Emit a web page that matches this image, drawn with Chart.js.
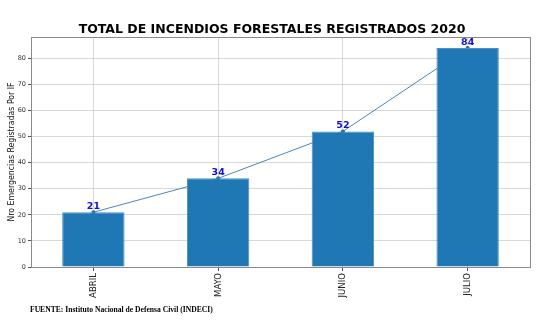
<!DOCTYPE html>
<html>
<head>
<meta charset="utf-8">
<title>Incendios forestales 2020</title>
<script src="https://cdn.jsdelivr.net/npm/chart.js@4/dist/chart.umd.min.js"></script>
<style>
    html, body { margin: 0; padding: 0; background: #fff; }
    #wrap { position: relative; width: 541px; height: 322px; }
</style>
</head>
<body>
<div id="wrap"><canvas id="incendiosChart" width="541" height="322"></canvas></div>
<script>
// datos del gráfico
const meses = ['ABRIL', 'MAYO', 'JUNIO', 'JULIO'];
const incendios = [21, 34, 52, 84];
const ticksY = [0, 10, 20, 30, 40, 50, 60, 70, 80];

const titulo = 'TOTAL DE INCENDIOS FORESTALES REGISTRADOS 2020';
const tituloEjeY = 'Nro Emergencias Registradas Por IF';
const fuente = 'FUENTE: Instituto Nacional de Defensa Civil (INDECI)';

const fuenteAngosta = '"Liberation Sans Narrow", "DejaVu Sans Condensed", "DejaVu Sans"';

// caja completa alrededor del área del gráfico + textos de título y fuente
const marcoYTextos = {
    id: 'marcoYTextos',
    afterDraw(chart) {
        const { ctx, chartArea } = chart;
        ctx.save();
        ctx.strokeStyle = '#8a8a8a';
        ctx.lineWidth = 1;
        ctx.strokeRect(Math.round(chartArea.left) + 0.5, Math.round(chartArea.top) + 0.5,
            Math.round(chartArea.right - chartArea.left), Math.round(chartArea.bottom - chartArea.top));

        ctx.fillStyle = '#000';
        ctx.textAlign = 'center';
        ctx.textBaseline = 'alphabetic';
        ctx.font = 'bold 12.5px "DejaVu Sans"';
        ctx.fillText(titulo, 272, 33);

        ctx.textAlign = 'left';
        ctx.font = 'bold 7.6px "Liberation Serif"';
        ctx.fillText(fuente, 30, 312);
        ctx.restore();
    }
};

// etiquetas de valor encima de cada barra
const etiquetasValor = {
    id: 'etiquetasValor',
    afterDatasetsDraw(chart) {
        const { ctx } = chart;
        const meta = chart.getDatasetMeta(0);
        ctx.save();
        ctx.fillStyle = '#1010d0';
        ctx.font = 'bold 9.5px "DejaVu Sans"';
        ctx.textAlign = 'center';
        ctx.textBaseline = 'bottom';
        meta.data.forEach((bar, i) => {
            ctx.fillText(String(incendios[i]), bar.x, bar.y - 1);
        });
        ctx.restore();
    }
};

const ctx = document.getElementById('incendiosChart');

new Chart(ctx, {
    data: {
        labels: meses,
        datasets: [{
            type: 'bar',
            data: incendios,
            backgroundColor: '#1f77b4',
            borderColor: '#4a90c4',
            borderWidth: 1,
            categoryPercentage: 1,
            barPercentage: 0.5,
            order: 1
        }, {
            type: 'line',
            data: incendios,
            borderColor: '#4a88b4',
            borderWidth: 1,
            pointRadius: 2,
            pointBackgroundColor: '#2c6e9e',
            pointBorderWidth: 0,
            tension: 0,
            order: 2
        }]
    },
    options: {
        responsive: false,
        animation: false,
        layout: { padding: { top: 37, right: 11, left: 0, bottom: 0 } },
        plugins: {
            legend: { display: false },
            title: { display: false },
            tooltip: { enabled: false }
        },
        scales: {
            x: {
                offset: true,
                z: 1,
                grid: {
                    offset: false,
                    color: 'rgba(190,190,190,0.6)',
                    drawTicks: true,
                    tickLength: 4,
                    tickColor: '#555'
                },
                border: { display: true, color: '#8a8a8a' },
                ticks: {
                    autoSkip: false,
                    minRotation: 90,
                    maxRotation: 90,
                    padding: 2,
                    color: '#222',
                    font: { family: fuenteAngosta, size: 9.5 }
                },
                afterFit(scale) { scale.height = 55; }
            },
            y: {
                min: 0,
                max: 88.2,
                z: 1,
                afterBuildTicks(scale) {
                    scale.ticks = ticksY.map(v => ({ value: v }));
                },
                grid: {
                    color: 'rgba(190,190,190,0.6)',
                    drawTicks: true,
                    tickLength: 3,
                    tickColor: '#555'
                },
                border: { display: true, color: '#8a8a8a' },
                ticks: {
                    padding: 2,
                    color: '#333',
                    font: { family: '"DejaVu Sans"', size: 6.5 }
                },
                title: {
                    display: true,
                    text: tituloEjeY,
                    color: '#111',
                    padding: { top: 7, bottom: 0 },
                    font: { family: fuenteAngosta, size: 8.7 }
                },
                afterFit(scale) { scale.width = 31; }
            }
        }
    },
    plugins: [marcoYTextos, etiquetasValor]
});
</script>
</body>
</html>
